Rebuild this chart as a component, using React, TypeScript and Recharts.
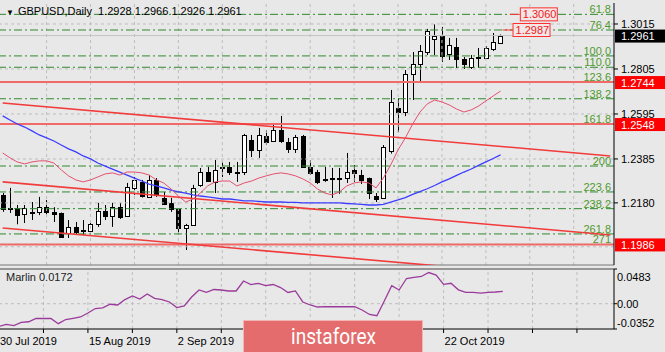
import React from "react";
import { ComposedChart, Bar, Line, XAxis, YAxis, ReferenceLine, ReferenceDot } from "recharts";

// daily GBPUSD candles, 30 Jul 2019 .. 4 Nov 2019 (bar index 0..68)
const opens = [
  1.2217, 1.215, 1.2156, 1.2126, 1.2134, 1.2138, 1.216, 1.2138, 1.2133, 1.204,
  1.2068, 1.2049, 1.2049, 1.2082, 1.2142, 1.2119, 1.216, 1.2119, 1.225, 1.2278,
  1.2208, 1.2287, 1.2203, 1.218, 1.2152, 1.2063, 1.2077, 1.2264, 1.2324, 1.2278,
  1.234, 1.2348, 1.232, 1.2326, 1.2473, 1.2427, 1.2492, 1.2469, 1.252, 1.2464,
  1.2431, 1.2492, 1.2348, 1.2324, 1.229, 1.2296, 1.2292, 1.2296, 1.2334, 1.231,
  1.2296, 1.2212, 1.2203, 1.242, 1.2622, 1.2604, 1.2782, 1.2828, 1.2884, 1.2945,
  1.2959, 1.2875, 1.2908, 1.2852, 1.2814, 1.286, 1.2856, 1.2898, 1.2928,
];
const highs = [
  1.2226, 1.225, 1.217, 1.217, 1.2184, 1.2208, 1.2193, 1.216, 1.2135, 1.21,
  1.2091, 1.21, 1.21, 1.218, 1.217, 1.218, 1.218, 1.2273, 1.2301, 1.2287,
  1.231, 1.2296, 1.2231, 1.2203, 1.2155, 1.2082, 1.2264, 1.2343, 1.2348, 1.238,
  1.2371, 1.2371, 1.2371, 1.2502, 1.2497, 1.253, 1.252, 1.2553, 1.2586, 1.2483,
  1.2497, 1.2497, 1.238, 1.2334, 1.2348, 1.2343, 1.2343, 1.2413, 1.2357, 1.2334,
  1.2298, 1.2226, 1.245, 1.2707, 1.2669, 1.28, 1.2884, 1.2917, 1.2992, 1.3013,
  1.3001, 1.295, 1.295, 1.2861, 1.287, 1.2903, 1.2912, 1.2973, 1.2966,
];
const lows = [
  1.2138, 1.2133, 1.208, 1.2086, 1.21, 1.2123, 1.2123, 1.2091, 1.2016, 1.2016,
  1.2035, 1.203, 1.204, 1.2068, 1.21, 1.2068, 1.2105, 1.2114, 1.2217, 1.2205,
  1.2205, 1.2208, 1.217, 1.2138, 1.203, 1.196, 1.2072, 1.2255, 1.2278, 1.2226,
  1.2301, 1.231, 1.2278, 1.231, 1.2394, 1.239, 1.245, 1.2464, 1.246, 1.2413,
  1.2413, 1.2343, 1.231, 1.2268, 1.2278, 1.2203, 1.2222, 1.2273, 1.2278, 1.2268,
  1.2198, 1.2184, 1.2198, 1.241, 1.2511, 1.2585, 1.266, 1.2744, 1.287, 1.287,
  1.2838, 1.2847, 1.281, 1.2805, 1.2805, 1.281, 1.2852, 1.2889, 1.2926,
];
const closes = [
  1.2152, 1.2157, 1.2124, 1.2156, 1.2138, 1.216, 1.2138, 1.2128, 1.202, 1.2068,
  1.2044, 1.2053, 1.2082, 1.2142, 1.2119, 1.216, 1.2114, 1.2254, 1.2287, 1.2212,
  1.2287, 1.2217, 1.2175, 1.2152, 1.2063, 1.2077, 1.225, 1.2324, 1.2282, 1.2334,
  1.2346, 1.2324, 1.2324, 1.2497, 1.2427, 1.2497, 1.2464, 1.252, 1.2469, 1.2431,
  1.2488, 1.2346, 1.232, 1.2278, 1.2293, 1.2298, 1.2296, 1.2324, 1.232, 1.2287,
  1.2226, 1.2198, 1.2441, 1.265, 1.2604, 1.2782, 1.2828, 1.2889, 1.2982, 1.2959,
  1.2866, 1.2917, 1.2852, 1.2828, 1.2856, 1.2863, 1.2903, 1.2931, 1.2961,
];

// slow moving average (blue) and fast one (red)
const blueMa = [
  1.2586, 1.2567, 1.2548, 1.2534, 1.2516, 1.2497, 1.2483, 1.2469, 1.245, 1.2432,
  1.2418, 1.2399, 1.2385, 1.2366, 1.2352, 1.2338, 1.2324, 1.231, 1.2296, 1.2282,
  1.2268, 1.2259, 1.225, 1.224, 1.2231, 1.2226, 1.2217, 1.2212, 1.2208, 1.2203,
  1.2198, 1.2198, 1.2194, 1.2189, 1.2189, 1.2187, 1.2184, 1.2184, 1.2184, 1.2182,
  1.2182, 1.218, 1.218, 1.218, 1.218, 1.218, 1.218, 1.2177, 1.2175, 1.2173,
  1.217, 1.217, 1.2173, 1.2184, 1.2194, 1.2205, 1.222, 1.2233, 1.2246, 1.2261,
  1.2278, 1.2292, 1.2308, 1.2324, 1.2338, 1.2355, 1.2371, 1.2387, 1.2404,
];
const redMa = [
  1.2413, 1.239, 1.2371, 1.2362, 1.2371, 1.2376, 1.2376, 1.2366, 1.2334, 1.2306,
  1.2287, 1.2278, 1.2287, 1.2301, 1.2315, 1.232, 1.231, 1.2324, 1.2324, 1.232,
  1.231, 1.2287, 1.2273, 1.2245, 1.2212, 1.2184, 1.2198, 1.2226, 1.2259, 1.2278,
  1.2282, 1.2282, 1.2259, 1.2273, 1.2282, 1.2296, 1.2306, 1.2315, 1.232, 1.2315,
  1.2306, 1.2292, 1.2273, 1.2245, 1.2226, 1.2217, 1.2231, 1.2259, 1.2273, 1.2278,
  1.2273, 1.225, 1.2296, 1.2357, 1.2427, 1.2483, 1.2548, 1.2604, 1.2642, 1.266,
  1.2651, 1.2637, 1.2618, 1.2604, 1.2614, 1.2632, 1.2656, 1.2679, 1.2702,
];
const marlin = [
  -0.0317, -0.0287, -0.0306, -0.0259, -0.0251, -0.0206, -0.0203, -0.0206, -0.0278, -0.022,
  -0.0203, -0.0185, -0.0129, -0.0067, -0.0057, -0.0008, -0.0018, 0.0058, 0.0107, 0.0065,
  0.0135, 0.0075, 0.0058, 0.0024, -0.0053, -0.0032, 0.0093, 0.0191, 0.0159, 0.0198,
  0.0191, 0.0177, 0.0177, 0.0316, 0.0267, 0.0284, 0.0251, 0.0267, 0.0225, 0.0156,
  0.0177, 0.0024, -0.0018, -0.0046, -0.0042, -0.0042, -0.0042, -0.0042, -0.0042, -0.0088,
  -0.015, -0.0167, 0.0038, 0.0251, 0.0191, 0.0351, 0.0365, 0.0379, 0.0434, 0.0399,
  0.027, 0.0284, 0.0193, 0.0159, 0.0159, 0.0146, 0.0159, 0.0163, 0.0172,
];

const SLOTS = 84; // bars incl. empty space on the right
// the labels at bars 36 and 48 sit under the watermark, so only these show
const dateTicks = [0, 12, 24, 60];
const dateLabels = ["30 Jul 2019", "15 Aug 2019", "2 Sep 2019", "22 Oct 2019"];
const axisTicks = [0, 6, 12, 18, 24, 30, 36, 42, 48, 54, 60, 66, 72, 78];
const gridBars = [6, 12, 18, 24, 30, 36, 42, 48, 54, 60, 66, 72, 78];
const priceTicks = [1.218, 1.2385, 1.2595, 1.2805, 1.3015];
const priceGrid = [1.1975, 1.218, 1.2385, 1.2595, 1.2805, 1.3015];
const marlinTicks = [-0.0352, 0, 0.0483];

const fibLabels = ["61.8", "76.4", "100.0", "110.0", "123.6", "138.2", "161.8", "200", "223.6", "238.2", "261.8", "271"];
const fibPrices = [1.306, 1.2987, 1.2866, 1.2813, 1.2744, 1.2666, 1.2548, 1.2352, 1.2231, 1.2153, 1.2035, 1.1986];
const levelPrices = [1.2744, 1.2548, 1.1986];
const lastPrice = 1.2961;
// channel lines: price at first bar and at last slot
const trendFrom = [1.2646, 1.2278, 1.2063];
const trendTo = [1.2399, 1.203, 1.1816];
const targetPrices = [1.306, 1.2987];
const targetBars = [69, 68];

const FONT = "'Liberation Sans', Arial, sans-serif";
const BG = "#e8e8e8";
const GRID = "#bdbdbd";
const FIB = "#2f8a2f";

const Candle = (props: any) => {
  const { x, y, width, height, payload } = props;
  if (!payload || payload.o == null) return null;
  const [lo, hi] = payload.range;
  const k = height / (hi - lo);
  const cx = Math.round(x + width / 2) + 0.5;
  const top = y + (hi - Math.max(payload.o, payload.c)) * k;
  const bot = y + (hi - Math.min(payload.o, payload.c)) * k;
  const bull = payload.c >= payload.o;
  return (
    <g>
      <line x1={cx} x2={cx} y1={y} y2={y + height} stroke="#000" />
      <rect
        x={cx - 2}
        y={Math.round(top) + 0.5}
        width={4}
        height={Math.max(1, Math.round(bot - top))}
        fill={bull ? "#fff" : "#000"}
        stroke="#000"
      />
    </g>
  );
};

const FibTag = ({ viewBox, text }: any) => {
  if (!viewBox) return null;
  return (
    <text x={viewBox.x + viewBox.width - 3} y={viewBox.y - 1} textAnchor="end" fontSize={11} fill="#4f9a2c">
      {text}
    </text>
  );
};

const AxisTag = ({ viewBox, text, fill }: any) => {
  if (!viewBox) return null;
  const x = viewBox.x + viewBox.width + 1;
  return (
    <g>
      <rect x={x} y={viewBox.y - 6} width={50} height={13} fill={fill} />
      <text x={x + 6} y={viewBox.y + 4.5} fontSize={11} fill="#fff">
        {text}
      </text>
    </g>
  );
};

const TargetTag = ({ cx, cy, text }: any) => {
  if (cx == null) return null;
  return (
    <g>
      <line x1={cx + 2} x2={cx + 12} y1={cy} y2={cy} stroke="#ff3030" />
      <rect x={cx + 12.5} y={cy - 6.5} width={37} height={13} fill="#f2e6e6" stroke="#ff3030" />
      <text x={cx + 15} y={cy + 4} fontSize={11} fill="#ee2020">
        {text}
      </text>
    </g>
  );
};

const DateTick = ({ x, y, payload }: any) => {
  const n = dateTicks.indexOf(payload.value);
  if (n < 0) return null;
  return (
    <text x={x + 1} y={y} dy="0.71em" fontSize={11} fill="#000">
      {dateLabels[n]}
    </text>
  );
};

const MarlinTick = ({ x, y, payload }: any) => {
  const v = payload.value;
  const shift = v > 0 ? 8 : v < 0 ? -6 : 0;
  return (
    <text x={x} y={y + shift} dy="0.355em" fontSize={11} fill="#000">
      {v === 0 ? "0.00" : v.toFixed(4)}
    </text>
  );
};

export default function App() {
  const rows = Array.from({ length: SLOTS }, (_, i) => ({
    i,
    range: i < opens.length ? [lows[i], highs[i]] : null,
    o: i < opens.length ? opens[i] : null,
    c: i < closes.length ? closes[i] : null,
    blue: i < blueMa.length ? blueMa[i] : null,
    red: i < redMa.length ? redMa[i] : null,
    marlin: i < marlin.length ? marlin[i] : null,
  }));

  return (
    <div style={{ position: "absolute", left: 0, top: 0, width: 665, height: 352, background: BG, fontFamily: FONT, overflow: "hidden" }}>
      <div style={{ position: "absolute", left: -1, top: 0 }}>
        <ComposedChart width={666} height={268} data={rows} margin={{ top: 3, right: 0, bottom: 3, left: 0 }}>
          <XAxis dataKey="i" type="category" hide />
          <YAxis
            orientation="right"
            width={51}
            domain={[1.189, 1.3113]}
            allowDataOverflow
            ticks={priceTicks}
            interval={0}
            tickFormatter={(v: number) => v.toFixed(4)}
            tick={{ fontSize: 11, fill: "#000" }}
            tickSize={4}
            tickMargin={3}
            axisLine={{ stroke: "#000" }}
            tickLine={{ stroke: "#000" }}
          />
          {priceGrid.map((p) => (
            <ReferenceLine key={"hg" + p} y={p} stroke={GRID} strokeDasharray="3 3" />
          ))}
          {gridBars.map((b) => (
            <ReferenceLine key={"vg" + b} x={b} stroke={GRID} strokeDasharray="3 3" />
          ))}
          <ReferenceLine y={1.189} stroke="#777" />
          <ReferenceLine y={lastPrice} stroke="#c4c4c4" label={<AxisTag text={lastPrice.toFixed(4)} fill="#000" />} />
          {fibPrices.map((p, n) => (
            <ReferenceLine
              key={"fib" + n}
              y={p}
              stroke={FIB}
              strokeDasharray="8 3 2 3"
              label={<FibTag text={fibLabels[n]} />}
            />
          ))}
          {levelPrices.map((p) => (
            <ReferenceLine
              key={"lv" + p}
              y={p}
              stroke="#f06a6a"
              strokeWidth={2}
              label={<AxisTag text={p.toFixed(4)} fill="#ff0000" />}
            />
          ))}
          {trendFrom.map((p, n) => (
            <ReferenceLine
              key={"tr" + n}
              segment={[
                { x: 0, y: p },
                { x: SLOTS - 1, y: trendTo[n] },
              ]}
              stroke="#f23b3b"
              strokeWidth={1.6}
              ifOverflow="hidden"
            />
          ))}
          <Bar dataKey="range" barSize={5} shape={<Candle />} isAnimationActive={false} />
          <Line dataKey="blue" stroke="#3d3dff" strokeWidth={1.3} dot={false} isAnimationActive={false} />
          <Line dataKey="red" stroke="#e3506f" strokeWidth={1} dot={false} isAnimationActive={false} />
          {targetPrices.map((p, n) => (
            <ReferenceDot
              key={"tg" + n}
              x={targetBars[n]}
              y={p}
              r={0}
              shape={(props: any) => <TargetTag {...props} text={p.toFixed(4)} />}
            />
          ))}
        </ComposedChart>
      </div>

      <div style={{ position: "absolute", left: -1, top: 266 }}>
        <ComposedChart width={666} height={86} data={rows} margin={{ top: 3, right: 0, bottom: 0, left: 0 }}>
          <XAxis
            dataKey="i"
            type="category"
            height={23}
            ticks={axisTicks}
            interval={0}
            tick={<DateTick />}
            tickSize={4}
            tickMargin={4}
            axisLine={{ stroke: "#000" }}
            tickLine={{ stroke: "#000" }}
          />
          <YAxis
            orientation="right"
            width={51}
            domain={[-0.0352, 0.0483]}
            allowDataOverflow
            ticks={marlinTicks}
            interval={0}
            tick={<MarlinTick />}
            tickSize={3}
            tickMargin={0}
            axisLine={{ stroke: "#000" }}
            tickLine={{ stroke: "#000" }}
          />
          <ReferenceLine y={0} stroke={GRID} strokeDasharray="3 3" />
          {gridBars.map((b) => (
            <ReferenceLine key={"mvg" + b} x={b} stroke={GRID} strokeDasharray="3 3" />
          ))}
          <ReferenceLine y={0.0483} stroke="#444" />
          <ReferenceLine x={0} stroke="#444" />
          <Line dataKey="marlin" stroke="#9a3a9a" strokeWidth={1.3} dot={false} isAnimationActive={false} />
        </ComposedChart>
      </div>

      <div style={{ position: "absolute", left: 6, top: 5, fontSize: 11, whiteSpace: "pre", color: "#000" }}>
        <span style={{ fontSize: 8, marginRight: 4 }}>▼</span>
        {"GBPUSD,Daily  1.2928 1.2966 1.2926 1.2961"}
      </div>
      <div style={{ position: "absolute", left: 6, top: 271, fontSize: 11, color: "#222" }}>Marlin 0.0172</div>

      <div
        style={{
          position: "absolute",
          left: 243,
          top: 320,
          width: 178,
          height: 32,
          background: "#e46c6c",
          border: "1px solid #f3b4b4",
          borderBottom: "none",
        }}
      >
        <svg width={178} height={32}>
          <text x={47} y={22.5} fontSize={22} fill="#fff" textLength={85} lengthAdjust="spacingAndGlyphs" fontFamily="Roboto, sans-serif">
            instaforex
          </text>
        </svg>
      </div>
    </div>
  );
}
